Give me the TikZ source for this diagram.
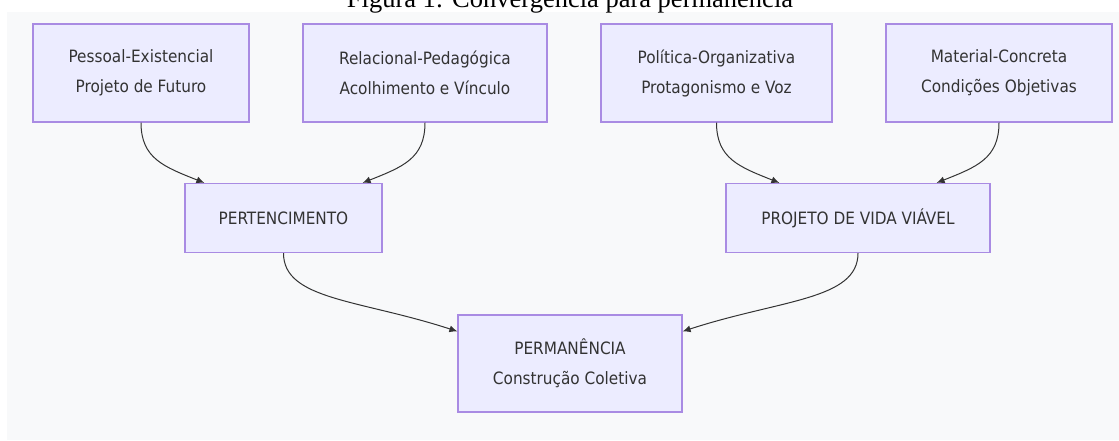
\documentclass[tikz,border=0pt]{standalone}
\usepackage{fontspec}
\setmainfont{Liberation Serif}
\newfontfamily\boxfont{DejaVu Sans Condensed}
\usetikzlibrary{arrows.meta}

\definecolor{boxfill}{HTML}{ECECFF}
\definecolor{boxline}{HTML}{A98BE3}
\definecolor{edgecol}{HTML}{333333}
\definecolor{textcol}{HTML}{333333}
\definecolor{canvas}{HTML}{F8F9FA}

\begin{document}
\begin{tikzpicture}[x=1pt,y=-1pt,->,>={Latex[length=8pt,width=7pt]},
                    box/.style={rectangle,draw=boxline,fill=boxfill,line width=1.2pt,
                      inner sep=0pt,align=center,text=textcol,
                      font=\boxfont\fontsize{17}{30}\selectfont},
                    link/.style={draw=edgecol,line width=1pt}]

\useasboundingbox (0,0) rectangle (1119,440);
\fill[canvas] (7,12) rectangle (1119,440);

\node[anchor=base,font=\fontsize{26.5}{26.5}\selectfont] (title) at (570,7.5)
  {Figura 1: Convergência para permanência};

% dimensoes
\node[box,minimum width=216pt,minimum height=98pt] (pessoal) at (141,73)
  {Pessoal-Existencial\\Projeto de Futuro};
\node[box,minimum width=244pt,minimum height=98pt] (relacional) at (425,73)
  {Relacional-Pedagógica\\Acolhimento e Vínculo};
\node[box,minimum width=231pt,minimum height=98pt] (politica) at (716.5,73)
  {Política-Organizativa\\Protagonismo e Voz};
\node[box,minimum width=226pt,minimum height=98pt] (material) at (999,73)
  {Material-Concreta\\Condições Objetivas};

% convergencias
\node[box,minimum width=197pt,minimum height=69pt] (pertenc) at (283.5,218) {PERTENCIMENTO};
\node[box,minimum width=264pt,minimum height=69pt] (projeto) at (858,218) {PROJETO DE VIDA VIÁVEL};

\node[box,minimum width=224pt,minimum height=97pt] (permanencia) at (570,363.5)
  {PERMANÊNCIA\\Construção Coletiva};

\draw[link] (pessoal.south) .. controls +(0,36) and +(-40,-16) .. ([xshift=20]pertenc.north west);
\draw[link] (relacional.south) .. controls +(0,36) and +(40,-16) .. ([xshift=-20]pertenc.north east);
\draw[link] (politica.south) .. controls +(0,36) and +(-40,-16) .. ([xshift=54]projeto.north west);
\draw[link] (material.south) .. controls +(0,36) and +(40,-16) .. ([xshift=-54]projeto.north east);

\draw[link] (pertenc.south) .. controls +(0,47) and +(-98,-32) .. ([yshift=-17]permanencia.north west);
\draw[link] (projeto.south) .. controls +(0,47) and +(98,-32) .. ([yshift=-17]permanencia.north east);
\end{tikzpicture}
\end{document}
